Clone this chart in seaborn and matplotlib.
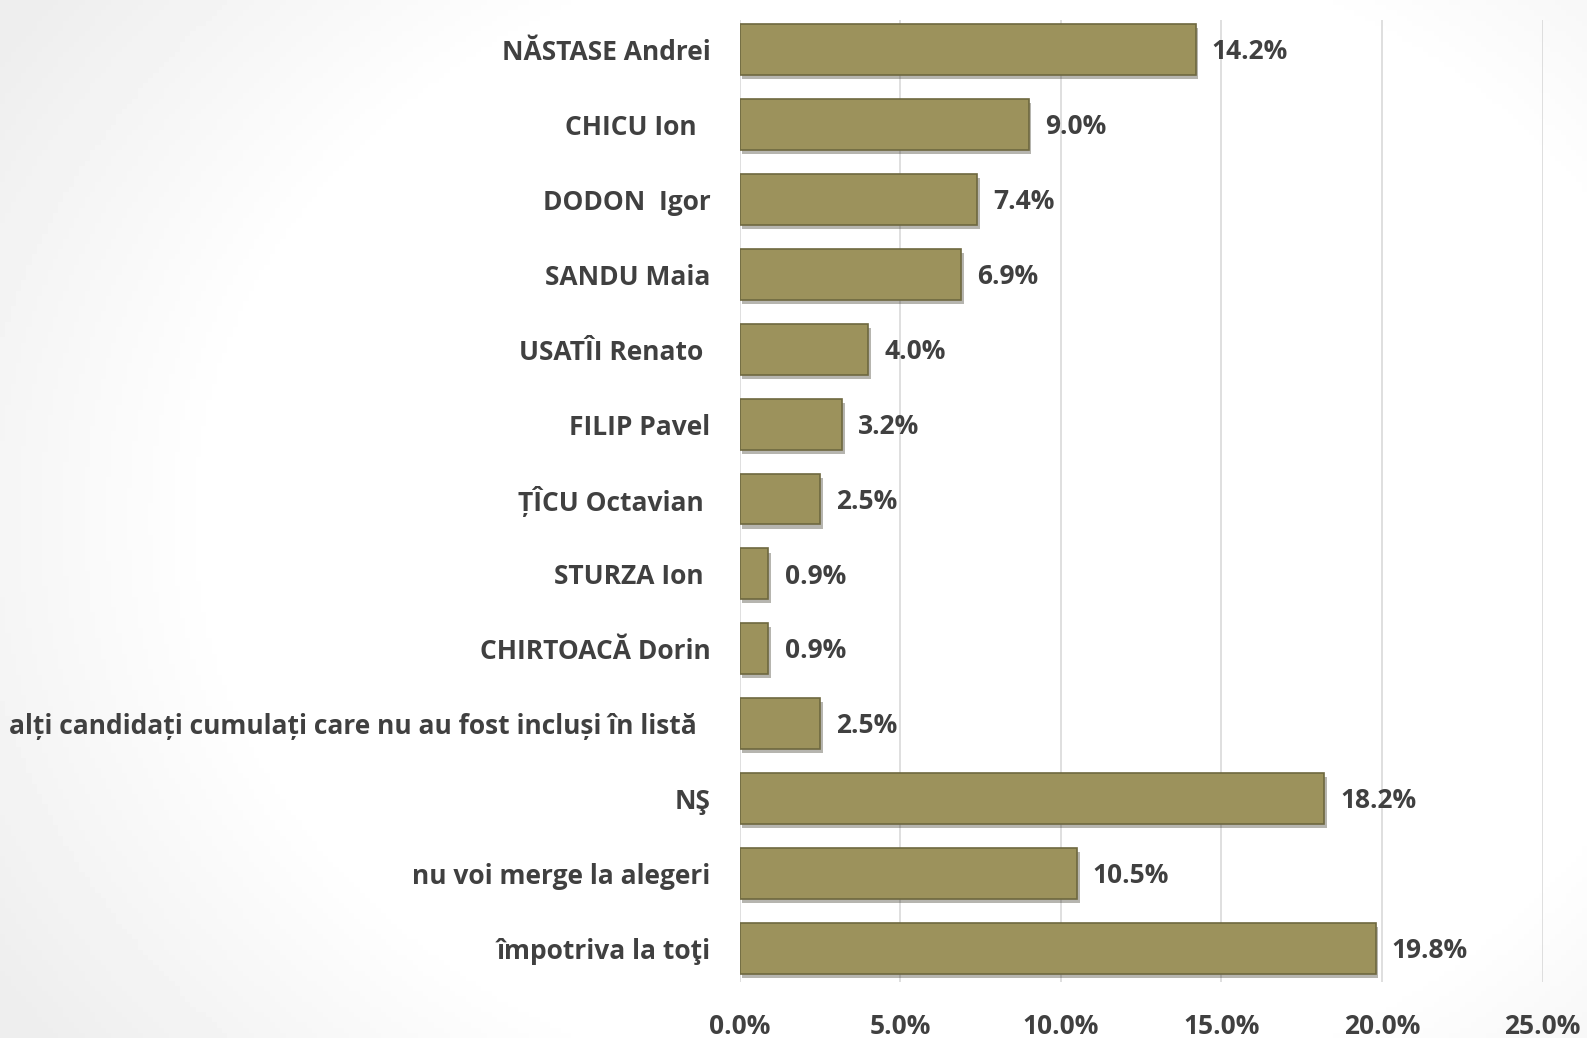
import numpy as np
import pandas as pd
import matplotlib
matplotlib.use("Agg")
import matplotlib.pyplot as plt
import matplotlib.patheffects as pe
import seaborn as sns

# -----------------------------
# DATA
# -----------------------------
candidates = [
    "NĂSTASE Andrei",
    "CHICU Ion  ",
    "DODON  Igor",
    "SANDU Maia",
    "USATÎI Renato ",
    "FILIP Pavel",
    "ȚÎCU Octavian ",
    "STURZA Ion ",
    "CHIRTOACĂ Dorin",
    "alți candidați cumulați care nu au fost incluși în listă  ",
    "NŞ",
    "nu voi merge la alegeri",
    "împotriva la toţi",
]
shares = [14.2, 9.0, 7.4, 6.9, 4.0, 3.2, 2.5, 0.9, 0.9, 2.5, 18.2, 10.5, 19.8]
x_ticks = [0, 5, 10, 15, 20, 25]

df = pd.DataFrame({"candidate": candidates, "share": shares})

# -----------------------------
# STYLE
# -----------------------------
sns.set_style("white")
plt.rcParams["font.family"] = ["Open Sans", "DejaVu Sans"]
text_col = "#404040"
bar_col = "#9c925c"
fs = 19

fig = plt.figure(figsize=(15.87, 10.38), dpi=100)

# faint grey shading on the far left of the slide
bg = fig.add_axes([0, 0, 1, 1], zorder=-10)
gx, gy = np.meshgrid(np.linspace(0, 1, 300), np.linspace(0, 1, 200))
dist = np.sqrt(((gx - 0.6) / 0.62) ** 2 + ((gy - 0.5) / 0.75) ** 2)
shade = np.clip((dist - 0.75) / 0.4, 0, 1)
bg.imshow(1 - 0.07 * shade, cmap="gray", vmin=0, vmax=1,
          extent=[0, 1, 0, 1], aspect="auto")
bg.axis("off")

ax = fig.add_axes([0.466, 0.054, 0.506, 0.927])
ax.patch.set_alpha(0)

sns.barplot(data=df, x="share", y="candidate", color=bar_col, width=0.68,
            saturation=1, edgecolor="#6e6840", linewidth=1.2, ax=ax, zorder=3)

for bar in ax.patches:
    bar.set_path_effects([pe.SimplePatchShadow(offset=(2, -3), alpha=0.35),
                          pe.Normal()])

for bar, v in zip(ax.patches, shares):
    ax.text(bar.get_width() + 0.5, bar.get_y() + bar.get_height() / 2 + 0.03,
            f"{v:.1f}%", va="center", ha="left", fontsize=fs,
            fontweight="bold", color=text_col)

ax.set_xlim(0, 25)
ax.set_ylim(12.45, -0.4)
ax.set_xticks(x_ticks)
ax.set_xticklabels([f"{t:.1f}%" for t in x_ticks])
ax.xaxis.grid(True, color="#d9d9d9", linewidth=1.2, zorder=0)
ax.set_axisbelow(True)
ax.set_xlabel("")
ax.set_ylabel("")
for s in ax.spines.values():
    s.set_visible(False)
ax.tick_params(axis="both", length=0, labelsize=fs, labelcolor=text_col)
ax.tick_params(axis="x", pad=22)
ax.tick_params(axis="y", pad=21)
for lab in ax.get_xticklabels() + ax.get_yticklabels():
    lab.set_fontweight("bold")

fig.savefig("out.png", dpi=100)
